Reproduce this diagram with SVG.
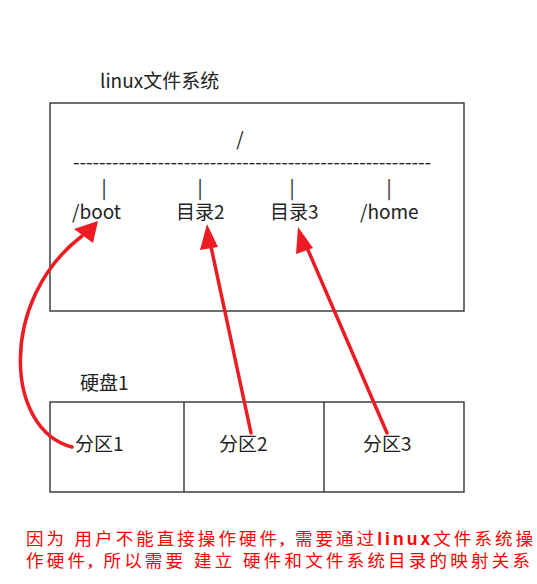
<svg xmlns="http://www.w3.org/2000/svg" width="537" height="584" viewBox="0 0 537 584">
<style>
.t{font-family:"Noto Sans CJK SC","Liberation Sans",sans-serif;font-size:19px;fill:#222}
.box{fill:#fff;stroke:#333;stroke-width:1.4}
.arr{fill:none;stroke:#ed1c24;stroke-width:3.5;stroke-linecap:round}
.red{font-family:"Liberation Serif","Noto Sans CJK SC",serif;font-size:17.5px;fill:#ff0000}
</style>
<rect width="537" height="584" fill="#fff"/>
<g id="fs">
<text class="t" x="100" y="88" font-size="17.5">linux文件系统</text>
<rect class="box" x="50" y="103" width="414" height="208"/>
<text class="t" x="240" y="146" text-anchor="middle" font-size="18">/</text>
<text class="t" x="73" y="169" font-size="16" textLength="358" lengthAdjust="spacing">-------------------------------------------------------</text>
<text class="t" x="104" y="195" text-anchor="middle" font-size="17">|</text>
<text class="t" x="200" y="195" text-anchor="middle" font-size="17">|</text>
<text class="t" x="292" y="195" text-anchor="middle" font-size="17">|</text>
<text class="t" x="389" y="195" text-anchor="middle" font-size="17">|</text>
</g>
<g id="boot"><text class="t" x="72" y="219">/boot</text></g>
<g id="dir2"><text class="t" x="176" y="219">目录2</text></g>
<g id="dir3"><text class="t" x="270" y="219">目录3</text></g>
<g id="home"><text class="t" x="360" y="219">/home</text></g>
<g id="disk">
<text class="t" x="80" y="390">硬盘1</text>
<rect class="box" x="50" y="402" width="414" height="90"/>
<line x1="184" y1="402" x2="184" y2="492" stroke="#333" stroke-width="1.4"/>
<line x1="324" y1="402" x2="324" y2="492" stroke="#333" stroke-width="1.4"/>
</g>
<g id="p1"><text class="t" x="75" y="451">分区1</text></g>
<g id="p2"><text class="t" x="219" y="451">分区2</text></g>
<g id="p3"><text class="t" x="363" y="451">分区3</text></g>
<g id="connectors">
<path class="arr" d="M72,447 C5,430 -2,300 82,236"/>
<polygon points="98,221 93,243 74,229" fill="#ed1c24"/>
<line class="arr" x1="251" y1="433" x2="210" y2="242"/>
<polygon points="207,224 218,247 200,250" fill="#ed1c24"/>
<line class="arr" x1="387" y1="433" x2="305" y2="243"/>
<polygon points="298,227 313,248 296,254" fill="#ed1c24"/>
</g>
<g id="note">
<text class="red" x="26" y="545" textLength="507" lengthAdjust="spacing">因为 用户不能直接操作硬件<tspan font-weight="bold">,</tspan> 需要通过<tspan font-family="Liberation Sans" font-weight="bold">linux</tspan>文件系统操</text>
<text class="red" x="26" y="567" textLength="504" lengthAdjust="spacing">作硬件<tspan font-weight="bold">,</tspan> 所以需要 建立 硬件和文件系统目录的映射关系</text>
</g>
</svg>
